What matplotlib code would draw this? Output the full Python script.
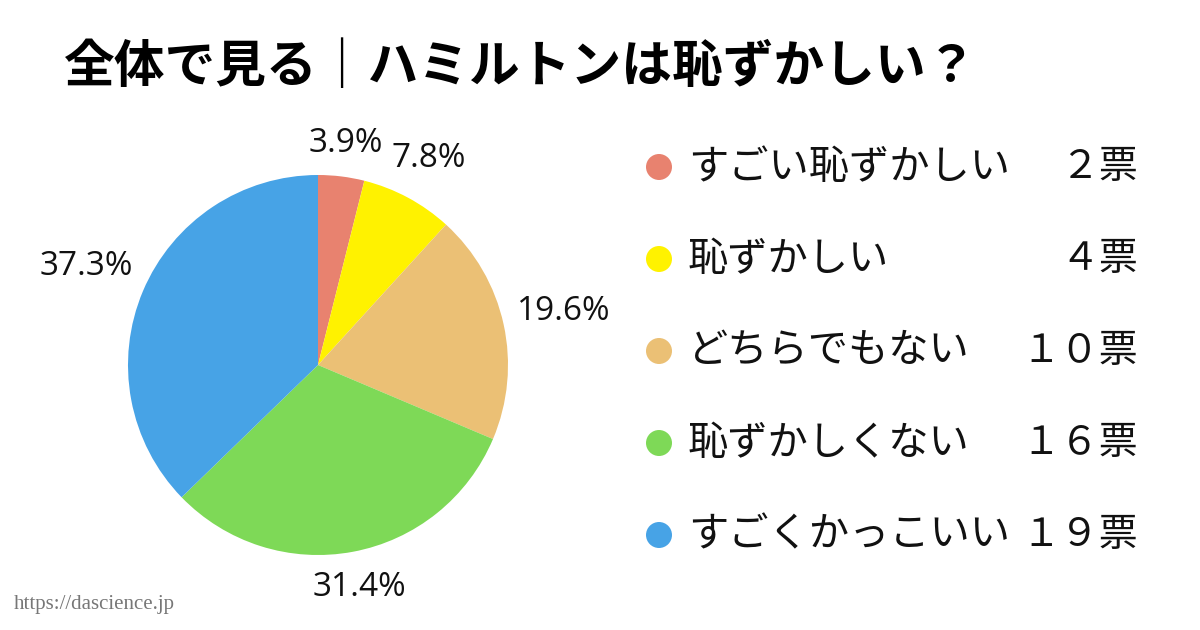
#!/usr/bin/env python
# -*- coding: utf-8 -*-

import numpy as np
import matplotlib
matplotlib.use("Agg")
import matplotlib.pyplot as plt
from matplotlib.patches import Circle

plt.rcParams['font.family'] = ['Noto Sans CJK JP', 'DejaVu Sans']

# data
title = "全体で見る｜ハミルトンは恥ずかしい？"
categories = ["すごい恥ずかしい", "恥ずかしい", "どちらでもない", "恥ずかしくない", "すごくかっこいい"]
votes = [2, 4, 10, 16, 19]
colors = ["#E8826F", "#FFF200", "#EBC075", "#7ED957", "#47A3E6"]
source = "https://dascience.jp"

W, H = 1200, 630
FULLWIDTH = str.maketrans("0123456789", "０１２３４５６７８９")


def pct_labels(vals):
    total = float(sum(vals))
    return ["%.1f%%" % (v / total * 100) for v in vals]


fig = plt.figure(figsize=(12, 6.3), dpi=100)
fig.patch.set_facecolor("white")
# axes in pixel units, y going up
ax = fig.add_axes([0, 0, 1, 1])

# pie
cx, cy, r = 318, H - 365, 190
wedges, _ = ax.pie(votes, colors=colors, startangle=90, counterclock=False,
                   center=(cx, cy), radius=r, frame=True,
                   wedgeprops=dict(linewidth=0))
ax.set_xlim(0, W)
ax.set_ylim(0, H)
ax.axis("off")

# percentage labels placed just outside the arc (datalabel "end" style)
renderer = fig.canvas.get_renderer()
for w, lab in zip(wedges, pct_labels(votes)):
    ang = np.deg2rad((w.theta1 + w.theta2) / 2.0)
    dx, dy = np.cos(ang), np.sin(ang)
    t = ax.text(cx, cy, lab, ha="center", va="center", fontsize=24,
                family=["Open Sans", "DejaVu Sans"], color="#111111")
    bb = t.get_window_extent(renderer=renderer)
    dist = r + 12 + abs(dx) * bb.width / 2 + abs(dy) * bb.height / 2
    t.set_position((cx + dist * dx, cy + dist * dy))

# legend
row0, row_gap = H - 167, 92
for i, (cat, v, c) in enumerate(zip(categories, votes, colors)):
    y = row0 - i * row_gap
    ax.add_patch(Circle((659, y), 13, color=c, lw=0))
    ax.text(688, y, cat, ha="left", va="center", fontsize=29, color="#111111")
    ax.text(1138, y, str(v).translate(FULLWIDTH) + "票", ha="right", va="center",
            fontsize=28, color="#111111")

# title
ax.text(64, H - 68, title, ha="left", va="center", fontsize=36.5,
        fontweight="bold", color="#000000")

# watermark
ax.text(14, H - 604, source, ha="left", va="center", fontsize=15,
        family=["Liberation Serif", "DejaVu Serif"], color="#777777")

fig.savefig("out.png", dpi=100, facecolor="white")
